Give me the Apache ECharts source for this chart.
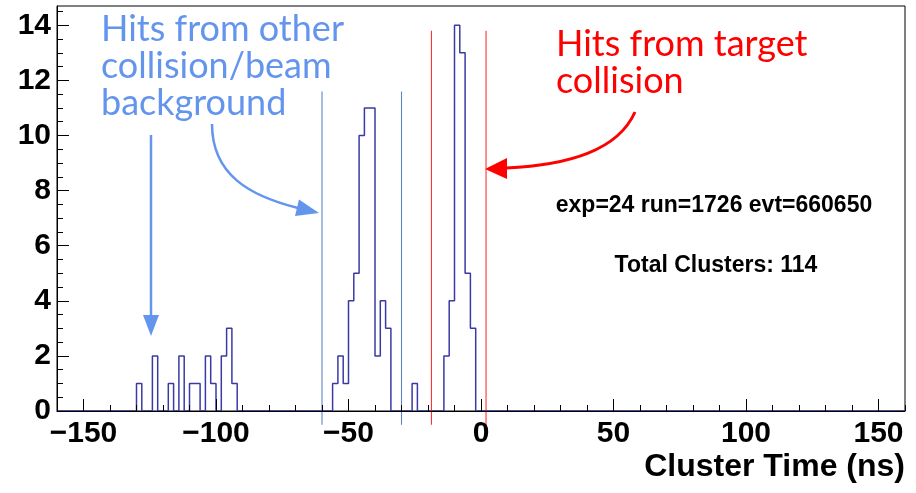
<!DOCTYPE html>
<html>
<head>
<meta charset="utf-8">
<script src="https://cdn.jsdelivr.net/npm/echarts@6/dist/echarts.min.js"></script>
<style>
html,body{margin:0;padding:0;background:#fff;}
#c{width:916px;height:493px;}
</style>
</head>
<body>
<div id="c"></div>
<script>
// ---- data ----
const xRange = [-160, 160];
const binWidth = 2;
const binLow   = [-130,-124,-118,-114,-110,-108,-104,-102,-98,-96,-94,
                  -56,-54,-52,-50,-48,-46,-44,-42,-40,-38,-36,
                  -26,
                  -14,-12,-10,-8,-6,-4];
const binCount = [1,2,1,2,1,1,2,1,2,3,1,
                  1,2,1,4,5,10,11,11,2,4,3,
                  1,
                  2,4,14,13,5,3];
const yMax = 14.7;
const xMajorTicks = [-150,-100,-50,0,50,100,150];
const xMinorTicks = [-160,-150,-140,-130,-120,-110,-100,-90,-80,-70,-60,-50,-40,-30,-20,-10,0,10,20,30,40,50,60,70,80,90,100,110,120,130,140,150,160];
const yMajorTicks = [0,2,4,6,8,10,12,14];
const yMinorTicks = [0,0.5,1,1.5,2,2.5,3,3.5,4,4.5,5,5.5,6,6.5,7,7.5,8,8.5,9,9.5,10,10.5,11,11.5,12,12.5,13,13.5,14,14.5];
const bgWindow = [-60, -30];        // blue lines (ns)
const bgWindowTop = 11.6;
const targetWindow = [-18.7, 1.9];  // red lines (ns)
const targetWindowTop = 13.8;
const windowLineBottom = -0.5;
const infoLines = ['exp=24 run=1726 evt=660650', 'Total Clusters: 114'];
const xTitle = 'Cluster Time (ns)';
const bgLabel = ['Hits from other', 'collision/beam', 'background'];
const targetLabel = ['Hits from target', 'collision'];

// ---- build histogram outline ----
const nBins = (xRange[1] - xRange[0]) / binWidth;
const dense = new Array(nBins).fill(0);
binLow.forEach((lo, i) => {
  const k = Math.round((lo - xRange[0]) / binWidth);
  dense[k] = binCount[i];
});
const histData = dense.map((c, k) => [xRange[0] + k * binWidth, c]);
histData.push([xRange[1], dense[nBins - 1]]);

const fmt = v => v < 0 ? '\u2212' + (-v) : String(v);
const labelFont = {fontFamily: 'Liberation Sans', fontWeight: 'bold', fontSize: 30, color: '#000'};

function vline(color) {
  return function (params, api) {
    const x = api.value(0), top = api.value(1);
    const p1 = api.coord([x, windowLineBottom]);
    const p2 = api.coord([x, top]);
    return {type: 'line', shape: {x1: p1[0], y1: p1[1], x2: p2[0], y2: p2[1]},
            style: {stroke: color, lineWidth: 1.1}};
  };
}

const blue = '#6495ed', red = '#ff0000';
const lato = (size) => size + 'px Lato';

const graphics = [];
bgLabel.forEach((t, i) => graphics.push({type: 'text', x: 101, y: 29 + i * 37,
  style: {text: t, font: lato(36), fill: blue, verticalAlign: 'middle', align: 'left'}}));
targetLabel.forEach((t, i) => graphics.push({type: 'text', x: 556, y: 44 + i * 37.6,
  style: {text: t, font: lato(36), fill: red, verticalAlign: 'middle', align: 'left'}}));
// arrows
graphics.push({type: 'line', shape: {x1: 151, y1: 135, x2: 151, y2: 318}, style: {stroke: blue, lineWidth: 2.5}});
graphics.push({type: 'polygon', shape: {points: [[143, 315], [159, 315], [151, 336]]}, style: {fill: blue}});
graphics.push({type: 'bezierCurve', shape: {x1: 212, y1: 124, cpx1: 212, cpy1: 175, cpx2: 250, cpy2: 196, x2: 298, y2: 208},
  style: {stroke: blue, lineWidth: 2.5, fill: null}});
graphics.push({type: 'polygon', shape: {points: [[299, 199.5], [295, 216], [319, 213]]}, style: {fill: blue}});
graphics.push({type: 'bezierCurve', shape: {x1: 635, y1: 112, cpx1: 618, cpy1: 150, cpx2: 570, cpy2: 165, x2: 506, y2: 168},
  style: {stroke: red, lineWidth: 3, fill: null}});
graphics.push({type: 'polygon', shape: {points: [[507, 158], [507, 179], [485, 169]]}, style: {fill: red}});
// info text
graphics.push({type: 'text', x: 714, y: 206, style: {text: infoLines[0], font: 'bold 23px "Liberation Sans"', fill: '#000', align: 'center', verticalAlign: 'middle'}});
graphics.push({type: 'text', x: 716, y: 266, style: {text: infoLines[1], font: 'bold 23px "Liberation Sans"', fill: '#000', align: 'center', verticalAlign: 'middle'}});
graphics.push({type: 'text', x: 905, y: 467, style: {text: xTitle, font: 'bold 32px "Liberation Sans"', fill: '#000', align: 'right', verticalAlign: 'middle'}});

const chart = echarts.init(document.getElementById('c'), null, {renderer: 'canvas'});
chart.setOption({
  animation: false,
  backgroundColor: '#fff',
  grid: {left: 57, right: 11, top: 6, bottom: 82, show: true, borderColor: '#000', borderWidth: 1, backgroundColor: 'transparent'},
  xAxis: [
    {type: 'value', min: xRange[0], max: xRange[1], position: 'bottom', z: 5,
     axisLine: {show: true, onZero: false, lineStyle: {color: '#000', width: 1}},
     axisTick: {show: true, inside: true, length: 12, customValues: xMajorTicks, lineStyle: {color: '#000', width: 1}},
     axisLabel: Object.assign({show: true, customValues: xMajorTicks, margin: 8, formatter: fmt}, labelFont),
     splitLine: {show: false}},
    {type: 'value', min: xRange[0], max: xRange[1], position: 'bottom', z: 5,
     axisLine: {show: false, onZero: false},
     axisTick: {show: true, inside: true, length: 6, customValues: xMinorTicks, lineStyle: {color: '#000', width: 1}},
     axisLabel: {show: false},
     splitLine: {show: false}}
  ],
  yAxis: [
    {type: 'value', min: 0, max: yMax, position: 'left', z: 5,
     axisLine: {show: true, onZero: false, lineStyle: {color: '#000', width: 1}},
     axisTick: {show: true, inside: true, length: 12, customValues: yMajorTicks, lineStyle: {color: '#000', width: 1}},
     axisLabel: Object.assign({show: true, customValues: yMajorTicks, margin: 6}, labelFont),
     splitLine: {show: false}},
    {type: 'value', min: 0, max: yMax, position: 'left', z: 5,
     axisLine: {show: false, onZero: false},
     axisTick: {show: true, inside: true, length: 6, customValues: yMinorTicks, lineStyle: {color: '#000', width: 1}},
     axisLabel: {show: false},
     splitLine: {show: false}}
  ],
  series: [
    {type: 'line', step: 'end', data: histData, xAxisIndex: 0, yAxisIndex: 0, symbol: 'none',
     lineStyle: {color: '#3a3aa6', width: 1.5}, z: 2},
    {type: 'custom', clip: false, xAxisIndex: 0, yAxisIndex: 0, renderItem: vline('#5f86c0'),
     data: bgWindow.map(x => [x, bgWindowTop]), z: 1},
    {type: 'custom', clip: false, xAxisIndex: 0, yAxisIndex: 0, renderItem: vline('#ff3333'),
     data: targetWindow.map(x => [x, targetWindowTop]), z: 1}
  ],
  graphic: {elements: graphics}
});
</script>
</body>
</html>
